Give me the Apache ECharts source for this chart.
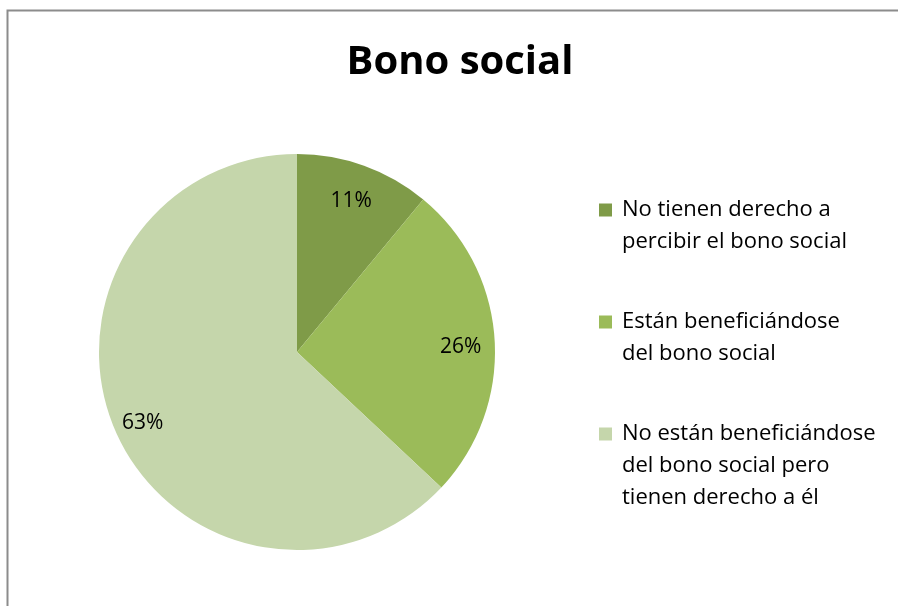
<!DOCTYPE html>
<html>
<head>
<meta charset="utf-8">
<script src="https://cdn.jsdelivr.net/npm/echarts@6/dist/echarts.min.js"></script>
<style>
  html, body { margin: 0; padding: 0; background: #ffffff; }
  #chart { width: 898px; height: 606px; }
</style>
</head>
<body>
<div id="chart"></div>
<script>
const titleText = 'Bono social';
const categories = [
  'No tienen derecho a\npercibir el bono social',
  'Están beneficiándose\ndel bono social',
  'No están beneficiándose\ndel bono social pero\ntienen derecho a él'
];
const values = [11, 26, 63];
const colors = ['#7f9b48', '#9bbb59', '#c5d6ab'];

const FONT = 'Open Sans';
const LINE_H = 32;
const ICON = 13;
const legendTops = [194, 306, 418];

// one legend per entry so the square sits beside the first text line
const legends = categories.map((c, i) => {
  const n = c.split('\n').length;
  const h = ICON + LINE_H * (n - 1);
  return {
    orient: 'vertical',
    left: 599, top: legendTops[i],
    padding: 0,
    itemWidth: ICON, itemHeight: h,
    itemGap: 0,
    selectedMode: false,
    icon: 'path://M0,0L' + ICON + ',0L' + ICON + ',' + ICON + 'L0,' + ICON + 'ZM0,' + h,
    data: [c],
    textStyle: { fontFamily: FONT, fontSize: 22, color: '#000000', lineHeight: LINE_H, padding: [0, 0, 0, 5] }
  };
});

const chart = echarts.init(document.getElementById('chart'), null, { renderer: 'canvas' });
chart.setOption({
  backgroundColor: '#ffffff',
  animation: false,
  title: {
    text: titleText,
    left: 455, top: 38, textAlign: 'center',
    textStyle: { fontFamily: FONT, fontWeight: 'bold', fontSize: 40, color: '#000000' }
  },
  legend: legends,
  graphic: [{
    type: 'rect', silent: true, z: -10,
    shape: { x: 7.5, y: 10.5, width: 1000, height: 1000 },
    style: { fill: 'none', stroke: '#8c8c8c', lineWidth: 2 }
  }],
  series: [{
    type: 'pie',
    name: 'main',
    center: [297, 352],
    radius: [0, 198],
    startAngle: 90,
    clockwise: true,
    silent: true,
    label: { show: false },
    labelLine: { show: false },
    itemStyle: { borderWidth: 0 },
    data: categories.map((c, i) => ({ name: c, value: values[i], itemStyle: { color: colors[i] } }))
  }, {
    type: 'pie',
    name: 'labels',
    center: [297, 352],
    radius: [0, 326],
    startAngle: 90,
    clockwise: true,
    silent: true,
    legendHoverLink: false,
    z: 5,
    itemStyle: { color: 'rgba(0,0,0,0)', borderWidth: 0 },
    label: {
      show: true, position: 'inside',
      formatter: p => p.value + '%',
      offset: [-2, 5],
      fontFamily: FONT, fontSize: 21, color: '#000000'
    },
    labelLine: { show: false },
    data: categories.map((c, i) => ({ name: c, value: values[i] }))
  }]
});
</script>
</body>
</html>
